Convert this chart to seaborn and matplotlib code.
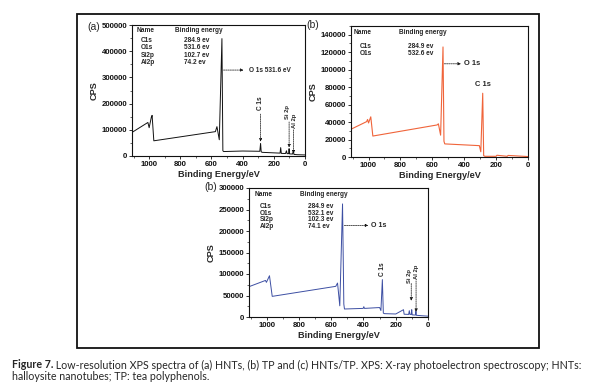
import matplotlib
matplotlib.use("Agg")
import matplotlib.pyplot as plt
import seaborn as sns
from matplotlib.patches import Rectangle
from matplotlib.ticker import MultipleLocator

sns.set_theme(style="white")
plt.rcParams['font.family'] = ['Liberation Sans', 'DejaVu Sans']

# ---------------- data ----------------
# (a) HNTs
energy_a = [1110, 1008, 1000, 986, 981, 970, 575, 565, 550, 533, 527, 522, 400, 290,
            285, 281, 275, 200, 160, 156, 152, 125, 119, 115, 105, 102, 99, 80, 74, 71, 50, 0]
cps_a = [90000, 128000, 108000, 148000, 155000, 58000, 93000, 112000, 62000, 448000, 20000,
         17000, 19000, 18000, 48000, 16000, 14000, 12000, 11000, 32000, 10000, 9500, 20000,
         9000, 9000, 28000, 8000, 7500, 22000, 6000, 5000, 4000]
# (b) TP
energy_b = [1110, 1012, 1006, 1000, 986, 973, 570, 562, 548, 533, 527, 522, 305, 296,
            284, 278, 270, 200, 195, 130, 125, 0]
cps_b = [31800, 40500, 43000, 39000, 46000, 24000, 36700, 38000, 25000, 126000, 18000,
         15000, 13000, 6000, 73000, 1500, 800, 800, 2000, 800, 1800, 500]
# (c) HNTs/TP
energy_c = [1115, 1008, 1002, 983, 966, 572, 561, 547, 530, 522, 518, 402, 398, 394, 300,
            292, 283, 277, 270, 200, 152, 148, 120, 116, 112, 104, 101, 98, 78, 75, 72, 40, 0]
cps_c = [69800, 85000, 80600, 96000, 48000, 71300, 79000, 26000, 263000, 30000, 18600,
         20000, 24000, 20000, 22000, 15000, 87000, 9000, 7800, 7000, 17000, 6500, 6000,
         14700, 6000, 6000, 17000, 5000, 4500, 13000, 4000, 3000, 2000]

table_names_a = ["C1s", "O1s", "Si2p", "Al2p"]
table_values_a = ["284.9 ev", "531.6 ev", "102.7 ev", "74.2 ev"]
table_names_b = ["C1s", "O1s"]
table_values_b = ["284.9 ev", "532.6 ev"]
table_names_c = ["C1s", "O1s", "Si2p", "Al2p"]
table_values_c = ["284.9 ev", "532.1 ev", "102.3 ev", "74.1 ev"]

caption_bold = "Figure 7."
caption_rest = (" Low-resolution XPS spectra of (a) HNTs, (b) TP and (c) HNTs/TP. "
                "XPS: X-ray photoelectron spectroscopy; HNTs:")
caption_line2 = "halloysite nanotubes; TP: tea polyphenols."

# ---------------- layout ----------------
W, H = 597, 392
fig = plt.figure(figsize=(W / 100, H / 100), dpi=100)
fig.patch.set_facecolor("white")


def fx(x):
    return x / W


def fy(y):
    return 1 - y / H


def axes_px(l, t, r, b):
    return fig.add_axes([fx(l), fy(b), (r - l) / W, (b - t) / H])


fig.add_artist(Rectangle((fx(77), fy(348)), (539 - 77) / W, (348 - 14) / H,
                         transform=fig.transFigure, fill=False, lw=1.3, ec="#111111"))

ax_a = axes_px(132, 25, 305, 156)
ax_b = axes_px(351, 26, 528, 157)
ax_c = axes_px(249, 188, 428, 317)

TICK_FS = 5.6
LAB_FS = 6.6
TAB_FS = 4.7
ROT_FS = 4.2


def style_axes(ax, ymax, ymaj, ymin):
    ax.set_xlim(1110, 0)
    ax.set_ylim(0, ymax)
    ax.xaxis.set_major_locator(MultipleLocator(200))
    ax.xaxis.set_minor_locator(MultipleLocator(100))
    ax.yaxis.set_major_locator(MultipleLocator(ymaj))
    ax.yaxis.set_minor_locator(MultipleLocator(ymin))
    for s in ax.spines.values():
        s.set_linewidth(0.8)
        s.set_color("#111111")
    ax.tick_params(axis="both", which="major", direction="out", length=2, width=0.6,
                   labelsize=TICK_FS, pad=1.5, bottom=True, left=True, colors="#111111")
    ax.tick_params(axis="both", which="minor", direction="out", length=1.2, width=0.5,
                   bottom=True, left=True)
    for lab in ax.get_xticklabels() + ax.get_yticklabels():
        lab.set_fontweight("bold")
    ax.set_xlabel("Binding Energy/eV", fontsize=LAB_FS, fontweight="bold", labelpad=1.5)
    ax.set_ylabel("CPS", fontsize=LAB_FS, fontweight="bold", labelpad=2)
    ax.set_facecolor("white")


sns.lineplot(x=energy_a, y=cps_a, ax=ax_a, color="#111111", linewidth=0.7, sort=False,
             estimator=None)
sns.lineplot(x=energy_b, y=cps_b, ax=ax_b, color="#f0643a", linewidth=0.8, sort=False,
             estimator=None)
sns.lineplot(x=energy_c, y=cps_c, ax=ax_c, color="#3d4fa3", linewidth=0.7, sort=False,
             estimator=None)

style_axes(ax_a, 500000, 100000, 50000)
style_axes(ax_b, 150000, 20000, 10000)
style_axes(ax_c, 300000, 50000, 25000)


def table(ax, names, values, xn, xname, xbe, xval, ytop, ys):
    ax.text(xn, ytop, "Name", transform=ax.transAxes, fontsize=TAB_FS, fontweight="bold",
            va="center", ha="left")
    ax.text(xbe, ytop, "Binding energy", transform=ax.transAxes, fontsize=TAB_FS,
            fontweight="bold", va="center", ha="left")
    for n, v, y in zip(names, values, ys):
        ax.text(xname, y, n, transform=ax.transAxes, fontsize=TAB_FS, fontweight="bold",
                va="center", ha="left")
        ax.text(xval, y, v, transform=ax.transAxes, fontsize=TAB_FS, fontweight="bold",
                va="center", ha="left")


table(ax_a, table_names_a, table_values_a, 0.027, 0.05, 0.25, 0.30, 0.955,
      [0.88, 0.825, 0.77, 0.715])
table(ax_b, table_names_b, table_values_b, 0.013, 0.05, 0.27, 0.32, 0.95, [0.84, 0.79])
table(ax_c, table_names_c, table_values_c, 0.034, 0.06, 0.285, 0.33, 0.953,
      [0.858, 0.80, 0.752, 0.70])

arrow_kw = dict(arrowstyle="-|>", lw=0.5, color="#111111", linestyle=(0, (2, 1.2)),
                mutation_scale=4, shrinkA=0, shrinkB=0)

# (a) annotations
ax_a.annotate("", xy=(395, 328000), xytext=(523, 328000), arrowprops=arrow_kw)
ax_a.text(362, 328000, "O 1s 531.6 eV", fontsize=TAB_FS, fontweight="bold", va="center",
          ha="left")
ax_a.text(287, 200000, "C 1s", fontsize=TAB_FS, fontweight="bold", rotation=90,
          va="center", ha="center")
ax_a.annotate("", xy=(285, 55000), xytext=(285, 160000), arrowprops=arrow_kw)
ax_a.text(110, 168000, "Si 2p", fontsize=ROT_FS, fontweight="bold", rotation=90,
          va="center", ha="center")
ax_a.annotate("", xy=(102, 33000), xytext=(102, 130000), arrowprops=arrow_kw)
ax_a.text(70, 135000, "Al 2p", fontsize=ROT_FS, fontweight="bold", rotation=90,
          va="center", ha="center")
ax_a.annotate("", xy=(74, 10000), xytext=(74, 100000), arrowprops=arrow_kw)

# (b) annotations
ax_b.annotate("", xy=(421, 106700), xytext=(525, 106700), arrowprops=arrow_kw)
ax_b.text(400, 106700, "O 1s", fontsize=5.4, fontweight="bold", va="center", ha="left")
ax_b.text(283, 78500, "C 1s", fontsize=5.4, fontweight="bold", va="bottom", ha="center")

# (c) annotations
ax_c.annotate("", xy=(371, 213000), xytext=(519, 213000), arrowprops=arrow_kw)
ax_c.text(352, 213000, "O 1s", fontsize=TAB_FS + 0.4, fontweight="bold", va="center",
          ha="left")
ax_c.text(283, 112000, "C 1s", fontsize=TAB_FS, fontweight="bold", rotation=90,
          va="center", ha="center")
ax_c.text(112, 95000, "Si 2p", fontsize=ROT_FS, fontweight="bold", rotation=90,
          va="center", ha="center")
ax_c.annotate("", xy=(104, 38000), xytext=(104, 78000), arrowprops=arrow_kw)
ax_c.text(70, 104000, "Al 2p", fontsize=ROT_FS, fontweight="bold", rotation=90,
          va="center", ha="center")
ax_c.annotate("", xy=(74, 12000), xytext=(74, 84000), arrowprops=arrow_kw)

# panel letters
fig.text(fx(94), fy(27), "(a)", fontsize=7.5, ha="center", va="center")
fig.text(fx(313), fy(25), "(b)", fontsize=7.5, ha="center", va="center")
fig.text(fx(217), fy(187), "(b)", fontsize=7.5, ha="right", va="center")

# caption
cap_font = ["Lato", "DejaVu Sans"]
CAP_FS = 7.7
t1 = fig.text(fx(12), fy(365), caption_bold, fontsize=CAP_FS, fontweight="bold",
              family=cap_font, ha="left", va="center")
r = fig.canvas.get_renderer()
bb = t1.get_window_extent(renderer=r)
fig.text(bb.x1 / W, fy(365), caption_rest, fontsize=CAP_FS, family=cap_font, ha="left",
         va="center")
fig.text(fx(12), fy(376), caption_line2, fontsize=CAP_FS, family=cap_font, ha="left",
         va="center")

fig.savefig("out.png", dpi=100, facecolor="white")
